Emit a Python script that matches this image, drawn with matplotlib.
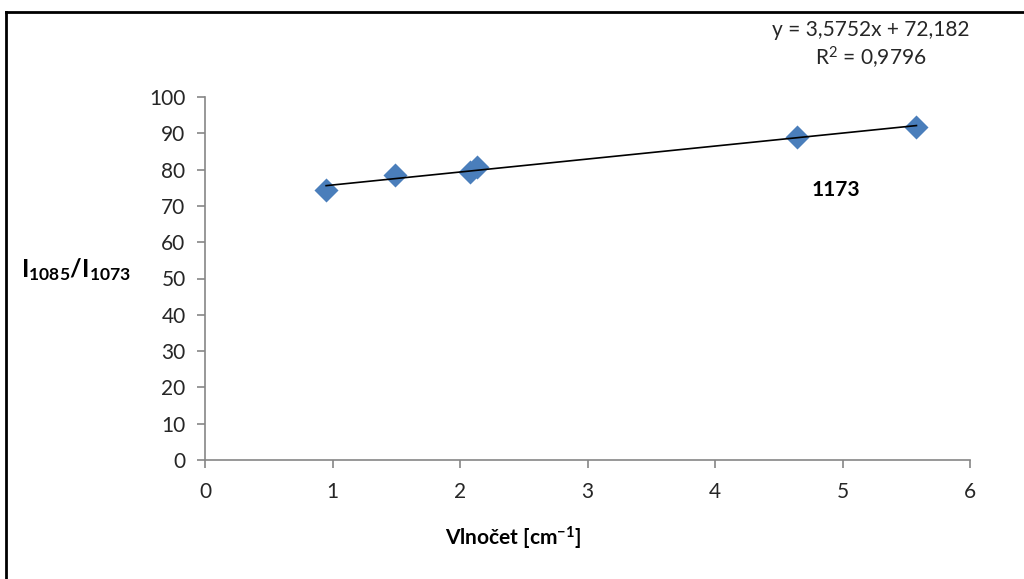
import matplotlib
matplotlib.use("Agg")
import matplotlib.pyplot as plt
from matplotlib.lines import Line2D
import numpy as np

# Data
wavenumber = [0.95, 1.49, 2.08, 2.13, 4.64, 5.58]
ratio = [74.3, 78.5, 79.3, 80.6, 89.0, 91.7]
slope = 3.5752
intercept = 72.182
eq_text = "y = 3,5752x + 72,182"
r2_text = "R$^{2}$ = 0,9796"
point_label = "1173"
x_ticks = [0, 1, 2, 3, 4, 5, 6]
y_ticks = [0, 10, 20, 30, 40, 50, 60, 70, 80, 90, 100]

plt.rcParams['font.family'] = ['Lato', 'DejaVu Sans']
plt.rcParams['mathtext.fontset'] = 'custom'
plt.rcParams['mathtext.rm'] = 'Lato'
plt.rcParams['mathtext.bf'] = 'Lato:weight=bold'
plt.rcParams['mathtext.it'] = 'Lato:style=italic'

W, H = 1024, 579
fig = plt.figure(figsize=(W / 100, H / 100), dpi=100)
fig.patch.set_facecolor('white')

ax = fig.add_axes([205 / W, 1 - 460 / H, (970 - 205) / W, (460 - 97) / H])

ax.scatter(wavenumber, ratio, marker='D', s=150, color='#4a7ebb', zorder=3, linewidths=0)
xs = np.array([min(wavenumber), max(wavenumber)])
ax.plot(xs, slope * xs + intercept, color='black', lw=1.2, zorder=4)

ax.set_xlim(0, 6)
ax.set_ylim(0, 100)
ax.set_xticks(x_ticks)
ax.set_yticks(y_ticks)
ax.set_xticklabels([str(v) for v in x_ticks])
ax.set_yticklabels([str(v) for v in y_ticks])

for s in ['top', 'right']:
    ax.spines[s].set_visible(False)
for s in ['left', 'bottom']:
    ax.spines[s].set_color('#868686')
    ax.spines[s].set_linewidth(1.2)
ax.tick_params(axis='both', direction='out', length=6, width=1.2, color='#868686',
               labelsize=15, labelcolor='#262626')
ax.tick_params(axis='x', pad=10)
ax.tick_params(axis='y', pad=8)

fig.text(871 / W, 1 - 30 / H, eq_text, ha='center', va='center', fontsize=15, color='#262626')
fig.text(871 / W, 1 - 58 / H, r2_text, ha='center', va='center', fontsize=15, color='#262626')
fig.text(836 / W, 1 - 190 / H, point_label, ha='center', va='center', fontsize=15,
         fontweight='bold', color='black')

fig.text(76 / W, 1 - 270 / H, r"$\mathbf{I_{1085}/I_{1073}}$", ha='center', va='center',
         fontsize=18, color='black')
fig.text(513 / W, 1 - 538 / H, r"Vlnočet [cm$^{\mathbf{-1}}$]", ha='center', va='center',
         fontsize=15, fontweight='bold', color='black')

# Outer frame (only top and left edges visible in reference)
fig.add_artist(Line2D([6 / W, 1.0], [1 - 12 / H, 1 - 12 / H], transform=fig.transFigure,
                      color='black', lw=2))
fig.add_artist(Line2D([6 / W, 6 / W], [1 - 12 / H, 0.0], transform=fig.transFigure,
                      color='black', lw=2))

fig.savefig('out.png', dpi=100, facecolor='white')
